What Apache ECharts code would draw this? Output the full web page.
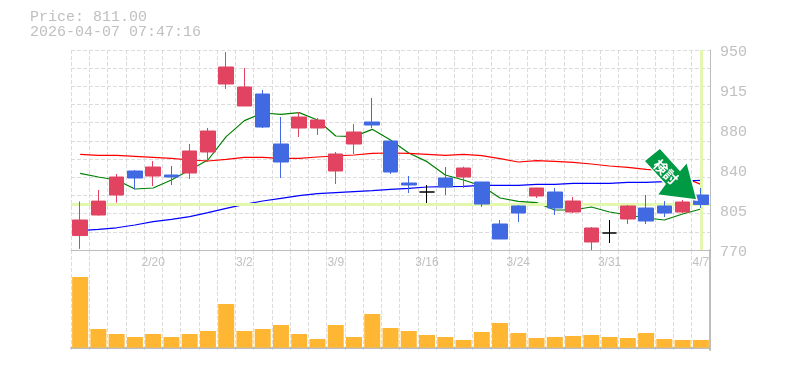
<!DOCTYPE html>
<html><head><meta charset="utf-8">
<style>html,body{margin:0;padding:0;background:#fff}#c{width:785px;height:370px}</style>
<script src="https://cdn.jsdelivr.net/npm/echarts@6/dist/echarts.min.js"></script>
</head><body><div id="c"></div>
<script>
const dates=["2/16","2/17","2/18","2/19","2/20","2/24","2/25","2/26","2/27","3/2","3/3","3/4","3/5","3/6","3/9","3/10","3/11","3/12","3/13","3/16","3/17","3/18","3/19","3/23","3/24","3/25","3/26","3/27","3/30","3/31","4/1","4/2","4/3","4/6","4/7"];
const priceTickLabels=["770","805","840","880","915","950"];
const opens=[783,801.5,819.5,841.1,836.6,837.5,839.3,858.2,919.4,899.6,910.4,865.4,879.8,879.8,841.1,865.4,885.2,868.1,830.3,822.2,834.8,835.7,831.2,793.4,809.6,818.6,822.2,804.2,777.2,785.3,797.9,807.8,809.6,804.2,819.5];
const closes=[797,814,835.7,834.8,844.7,835.7,859.1,877.1,934.7,916.7,880.7,849.2,889.7,887,856.4,876.2,882.5,840.2,828.5,822.2,826.7,843.8,811.4,779.9,803.3,825.8,807.8,814.1,789.8,785.3,809.6,796.1,803.3,813.2,811];
const lows=[771,801,812.6,824.6,827.6,828.5,833.9,849.2,914.9,899.6,879.8,834.8,871.7,873.5,829.4,856.4,879.8,838.4,821.3,812.3,819.5,825.8,808.7,779.9,795.2,816.8,801.5,803.3,770,776.3,793.4,793.4,799.7,803.3,807.8];
const highs=[813.8,824,838.4,842,850.1,845.6,865.4,879.8,948.2,933.8,914,889.7,894.2,888.8,858.2,883.4,906.8,868.1,836.6,828.5,844.7,845,831.2,797,810.5,825.8,825.8,817.7,790.7,797,810.5,819.5,814.1,815,825.8];
const maGreen=[839,835.7,833,824.9,825.8,833,842,851,872,886.4,893.3,892.1,893.6,887,872.6,872,878.6,869,857.3,849.5,837.5,833,827.6,816.8,813.8,812.6,806,806,808.7,804.2,801.5,798.8,797,802.4,806.9];
const maRed=[856.1,855.2,855.2,854.3,853.4,852.5,851,850.1,851.6,853.4,853.4,852.5,852.5,853.7,854.6,855.5,857,857.3,857,856.1,855.2,856.1,854.9,852.2,849.2,850.4,849.8,848.9,847.4,845.6,844.4,842.6,841.4,835.7,829.1];
const maBlue=[787.4,788.6,790,792.5,795.5,797.6,800,803.6,807.5,811.1,814.1,816.5,818.9,820.7,821.6,822.5,823.4,824.6,825.5,826.7,827,827.3,828.2,828.2,828.2,829.1,829.1,830,830,830,830.9,830.9,831.5,832.1,832.7];
const volumes=[70.7,18.7,13.7,10.7,13.7,10.7,13.7,16.7,43.7,16.7,18.7,22.7,13.7,8.7,22.7,10.7,33.7,19.7,16.7,12.7,10.7,7.7,15.7,24.7,14.7,9.7,10.7,11.7,12.7,10.7,9.7,14.7,8.7,7.7,7.7];
const lastPrice=811, lastDate="4/7";
const titleLines=["Price: 811.00","2026-04-07 07:47:16"];

const UP="#e14361",DOWN="#4169e1",GRID="#dcdcdc",AXIS="#bdbdbd",TXT="#c0c0c0",MONO="'Liberation Mono',monospace";
const candle=dates.map((d,i)=>[opens[i],closes[i],lows[i],highs[i]]);
const line=(name,data,color)=>({name,type:"line",data,xAxisIndex:0,yAxisIndex:0,symbol:"none",z:3,animation:false,silent:true,lineStyle:{color,width:1.2}});
const chart=echarts.init(document.getElementById("c"),null,{renderer:"canvas"});
chart.setOption({
 animation:false,backgroundColor:"#fff",
 title:{left:30,top:10,padding:0,text:titleLines.join("\n"),textStyle:{fontFamily:MONO,fontSize:15,fontWeight:"normal",color:TXT,lineHeight:15}},
 grid:[{left:71,right:75,top:50,height:200},{left:71,right:75,top:250,height:100}],
 xAxis:[
  {type:"category",gridIndex:0,data:dates,boundaryGap:true,
   axisLine:{show:true,lineStyle:{color:AXIS,width:1}},axisTick:{show:false},
   splitLine:{show:true,interval:0,lineStyle:{color:GRID,type:[4,2],width:1}},
   axisLabel:{interval:(i)=>i%5===4,hideOverlap:false,margin:7,fontFamily:"'Liberation Sans',sans-serif",fontSize:12,color:TXT}},
  {type:"category",gridIndex:1,data:dates,boundaryGap:true,
   axisLine:{show:true,lineStyle:{color:AXIS,width:2}},axisTick:{show:false},axisLabel:{show:false},
   splitLine:{show:true,interval:0,lineStyle:{color:GRID,type:[4,2],width:1}}}
 ],
 yAxis:[
  {type:"value",gridIndex:0,min:770,max:950,position:"right",show:false,splitLine:{show:false}},
  {type:"value",gridIndex:0,min:0,max:11,interval:1,position:"right",axisLine:{show:false},axisTick:{show:false},axisLabel:{show:false},
   splitLine:{show:true,lineStyle:{color:GRID,type:[4,2],width:1}}},
  {type:"value",gridIndex:0,min:0,max:5,interval:1,position:"right",axisLine:{show:true,onZero:false,lineStyle:{color:AXIS,width:1}},axisTick:{show:false},
   splitLine:{show:false},
   axisLabel:{margin:10,fontFamily:MONO,fontSize:15,color:TXT,verticalAlign:"top",lineHeight:5,formatter:(v)=>priceTickLabels[v]}},
  {type:"value",gridIndex:1,min:-2.3,max:97.7,position:"right",axisLine:{show:true,onZero:false,lineStyle:{color:AXIS,width:2}},axisTick:{show:false},axisLabel:{show:false},splitLine:{show:false}}
 ],
 series:[
  {name:"guide",type:"line",xAxisIndex:0,yAxisIndex:0,data:[],z:2,silent:true,
   markLine:{silent:true,symbol:"none",label:{show:false},animation:false,lineStyle:{color:"#e4f7ae",width:3,type:"solid"},
    data:[{yAxis:lastPrice},{xAxis:lastDate}]}},
  line("ma25",maGreen,"#008000"),
  line("ma75",maRed,"#ff0000"),
  line("ma200",maBlue,"#0000ff"),
  {name:"price",type:"candlestick",xAxisIndex:0,yAxisIndex:0,data:candle,barWidth:15,z:5,silent:true,
   itemStyle:{color:UP,color0:DOWN,borderColor:UP,borderColor0:DOWN,borderColorDoji:"#000",borderWidth:1,borderJoin:"miter"}},
  {name:"volume",type:"bar",xAxisIndex:1,yAxisIndex:3,data:volumes,barWidth:16,silent:true,itemStyle:{color:"#ffb733"}}
 ],
 graphic:[
  {type:"polygon",z:50,shape:{points:[[660,148],[644,161],[665,184],[657,195],[697,200],[687,162],[680,170]]},
   style:{fill:"#009944",stroke:"#fff",lineWidth:1.5}},
  {type:"text",z:51,x:666,y:172,rotation:-Math.PI/4,style:{text:"検討",font:"bold 14px 'Noto Sans CJK JP'",fill:"#fff",align:"center",verticalAlign:"middle"}}
 ]
});
</script></body></html>
